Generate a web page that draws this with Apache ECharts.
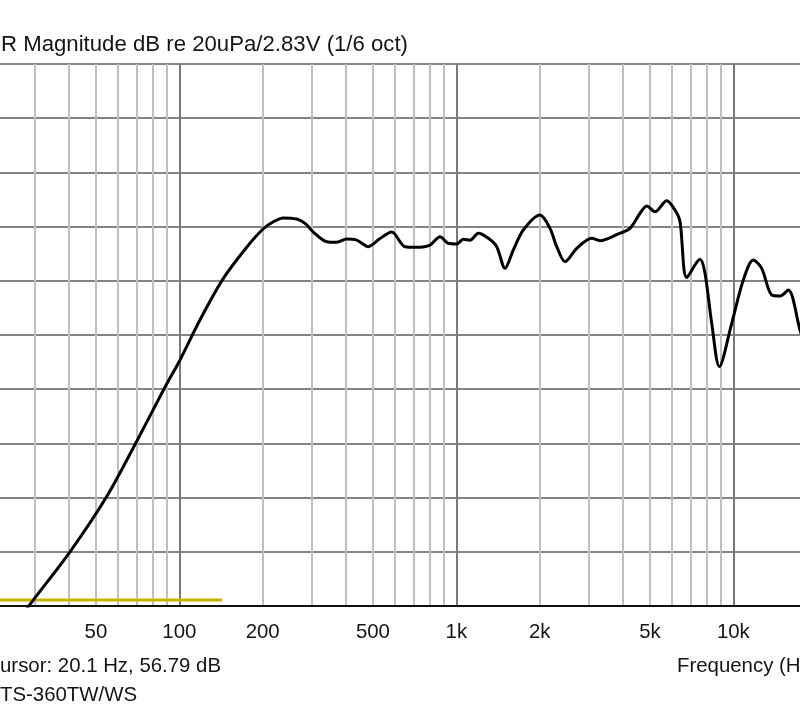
<!DOCTYPE html>
<html>
<head>
<meta charset="utf-8">
<script src="https://cdn.jsdelivr.net/npm/echarts@6/dist/echarts.min.js"></script>
<style>
html,body{margin:0;padding:0;background:#fff;}
#chart{width:800px;height:715px;}
</style>
</head>
<body>
<div id="chart"></div>
<script>
// Frequency response (Hz) and SPL (dB)
const freqHz = [25, 29.7, 40.3, 54.7, 70.2, 88.8, 100.6, 118.8, 144, 175.1,
  201, 218.5, 237.4, 265.3, 284.3, 304.6, 340.5, 370, 402, 437,
  481, 530, 584.6, 652.8, 719.5, 803.6, 873.6, 935.7, 1003, 1060,
  1121, 1201, 1305, 1399, 1499, 1606, 1746, 2005, 2179, 2304,
  2469, 2721, 3083, 3303, 3845, 4238, 4606, 4869, 5216, 5748,
  6160, 6422, 6789, 7583, 7902, 8356, 8904, 9868, 10867, 11809,
  12661, 13760, 14747, 15800, 17410, 18200];
const splDb = [53.0, 55.55, 60.0, 65.1, 70.2, 75.2, 77.7, 81.4, 85.2, 88.1,
  89.8, 90.45, 90.8, 90.7, 90.3, 89.5, 88.6, 88.55, 88.85, 88.75,
  88.15, 88.9, 89.5, 88.15, 88.1, 88.3, 89.07, 88.46, 88.4, 88.83,
  88.75, 89.38, 88.92, 88.15, 86.15, 87.84, 89.69, 91.07, 89.84, 88.15,
  86.76, 88.0, 88.92, 88.7, 89.32, 89.84, 91.23, 91.9, 91.37, 92.39,
  91.53, 90.45, 85.3, 86.98, 85.69, 81.08, 77.08, 81.08, 85.07, 86.92,
  86.15, 83.69, 83.6, 84.15, 80.46, 79.0];
// Yellow trace
const yellowHz = [20, 142.6];
const yellowDb = [55.55, 55.55];
// Axis ranges and grid frequencies
const freqMin = 20, freqMax = 20000;
const dbMin = 55, dbMax = 105, dbStep = 5;
const minorGridHz = [30, 40, 50, 60, 70, 80, 90, 200, 300, 400, 500, 600, 700, 800, 900,
  2000, 3000, 4000, 5000, 6000, 7000, 8000, 9000];
const majorGridHz = [100, 1000, 10000];
const tickLabelHz = [50, 100, 200, 500, 1000, 2000, 5000, 10000, 20000];
// Texts
const titleText = 'R Magnitude dB re 20uPa/2.83V (1/6 oct)';
const cursorText = 'ursor: 20.1 Hz, 56.79 dB';
const traceText = 'TS-360TW/WS';
const xNameText = 'Frequency (H';

const lg = v => Math.log10(v);
const fmt = v => {
  const f = Math.round(Math.pow(10, v));
  return f >= 1000 ? (f / 1000) + 'k' : String(f);
};
const font = 'Liberation Sans, Arial, sans-serif';
const txtColor = '#151515';

const chart = echarts.init(document.getElementById('chart'), null, {renderer: 'canvas'});
const baseX = {
  type: 'value', min: lg(freqMin), max: lg(freqMax), position: 'bottom',
  axisTick: {show: false}, axisLabel: {show: false}, axisLine: {show: false}
};
const ts = (size) => ({fontFamily: font, fontSize: size, fontWeight: 'normal', color: txtColor});
chart.setOption({
  animation: false,
  backgroundColor: '#fff',
  title: [
    {text: titleText, left: 1, top: 34, padding: 0, textStyle: ts(22.2)},
    {text: cursorText, left: 0, top: 656, padding: 0, textStyle: ts(20.4)},
    {text: traceText, left: 0, top: 685, padding: 0, textStyle: ts(20.4)},
    {text: xNameText, left: 677, top: 656, padding: 0, textStyle: ts(20.4)}
  ],
  grid: {left: -14.3, right: -16.7, top: 64, bottom: 109, outerBoundsMode: 'none', containLabel: false,
    show: true, borderColor: '#222', borderWidth: 2, backgroundColor: '#fff'},
  xAxis: [
    Object.assign({}, baseX, {
      axisTick: {show: false, customValues: minorGridHz.map(lg)},
      splitLine: {show: true, lineStyle: {color: '#c0c0c0', width: 2}},
      axisLine: {show: true, onZero: false, lineStyle: {color: '#111', width: 2}}
    }),
    Object.assign({}, baseX, {
      axisTick: {show: false, customValues: majorGridHz.map(lg)},
      splitLine: {show: true, lineStyle: {color: '#7a7a7a', width: 2}},
      axisLabel: {show: true, customValues: tickLabelHz.map(lg), formatter: fmt, margin: 16,
        showMaxLabel: true, hideOverlap: false,
        fontFamily: font, fontSize: 20.4, color: txtColor}
    })
  ],
  yAxis: {
    type: 'value', min: dbMin, max: dbMax, interval: dbStep,
    axisLabel: {show: false}, axisTick: {show: false}, axisLine: {show: false},
    splitLine: {show: true, lineStyle: {color: '#858585', width: 2}}
  },
  series: [
    {
      type: 'line', xAxisIndex: 0, data: yellowHz.map((f, i) => [lg(f), yellowDb[i]]),
      symbol: 'none', lineStyle: {color: '#c8b400', width: 3}, z: 3
    },
    {
      type: 'line', xAxisIndex: 0, data: freqHz.map((f, i) => [lg(f), splDb[i]]),
      symbol: 'none', smooth: 0.3, clip: true, lineStyle: {color: '#000', width: 3}, z: 4
    }
  ]
});
</script>
</body>
</html>
